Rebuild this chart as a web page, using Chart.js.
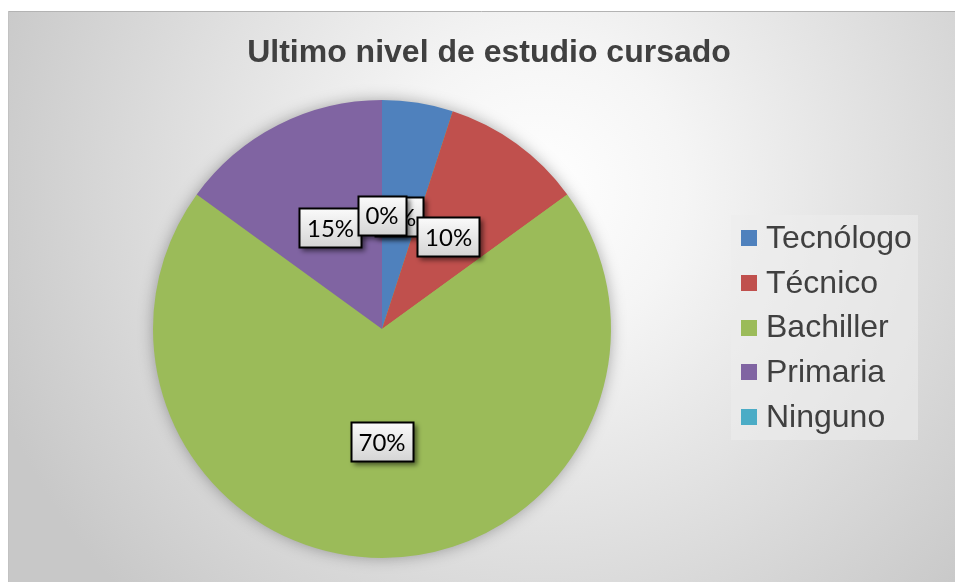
<!DOCTYPE html>
<html>
<head>
<meta charset="utf-8">
<script src="https://cdn.jsdelivr.net/npm/chart.js@4/dist/chart.umd.min.js"></script>
<style>
  html, body { margin: 0; padding: 0; background: #ffffff; }
  #wrap { position: relative; width: 955px; height: 582px; }
</style>
</head>
<body>
<div id="wrap"><canvas id="c"></canvas></div>
<script>
const titleText = 'Ultimo nivel de estudio cursado';
const categories = ['Tecnólogo', 'Técnico', 'Bachiller', 'Primaria', 'Ninguno'];
const percentages = [5, 10, 70, 15, 0];
const sliceColors = ['#4f81bd', '#c0504d', '#9bbb59', '#8064a2', '#4bacc6'];

const backgroundPlugin = {
  id: 'bgFrame',
  beforeDraw(chart) {
    const ctx = chart.ctx;
    const W = chart.width, H = chart.height;
    ctx.save();
    ctx.fillStyle = '#ffffff';
    ctx.fillRect(0, 0, W, H);
    const g = ctx.createRadialGradient(540, 190, 0, 540, 190, 580);
    g.addColorStop(0, '#ffffff');
    g.addColorStop(0.25, '#f5f5f5');
    g.addColorStop(1, '#c8c8c8');
    ctx.fillStyle = g;
    ctx.fillRect(8, 11, W - 8, H - 11);
    ctx.strokeStyle = '#b3b3b3';
    ctx.lineWidth = 1;
    ctx.beginPath();
    ctx.moveTo(8, 11.5); ctx.lineTo(W, 11.5);
    ctx.stroke();
    ctx.strokeStyle = '#c2c2c2';
    ctx.beginPath();
    ctx.moveTo(8.5, 11); ctx.lineTo(8.5, H);
    ctx.stroke();
    // title
    ctx.fillStyle = '#404040';
    ctx.font = 'bold 32px "Liberation Sans", Arial, sans-serif';
    ctx.textAlign = 'center';
    ctx.textBaseline = 'alphabetic';
    ctx.fillText(titleText, 489, 62);
    ctx.restore();
  },
  beforeDatasetsDraw(chart) {
    const meta = chart.getDatasetMeta(0);
    const a = meta.data[0];
    if (!a) return;
    const ctx = chart.ctx;
    ctx.save();
    ctx.shadowColor = 'rgba(0,0,0,0.35)';
    ctx.shadowBlur = 16;
    ctx.fillStyle = '#9bbb59';
    ctx.beginPath();
    ctx.arc(a.x, a.y, a.outerRadius - 1, 0, Math.PI * 2);
    ctx.fill();
    ctx.restore();
  }
};

const labelPlugin = {
  id: 'pctLabels',
  afterDatasetsDraw(chart) {
    const ctx = chart.ctx;
    const meta = chart.getDatasetMeta(0);
    const data = chart.data.datasets[0].data;
    const total = data.reduce((s, v) => s + v, 0);
    ctx.save();
    ctx.font = '24px Lato, "Open Sans", sans-serif';
    meta.data.forEach((arc, i) => {
      const p = arc.getProps(['x', 'y', 'startAngle', 'endAngle', 'outerRadius'], true);
      const mid = (p.startAngle + p.endAngle) / 2;
      const r = p.outerRadius * 0.495;
      const cx = p.x + Math.cos(mid) * r;
      const cy = p.y + Math.sin(mid) * r;
      const txt = Math.round(data[i] / total * 100) + '%';
      const tw = ctx.measureText(txt).width;
      const bw = Math.round(tw + 16), bh = 40;
      const bx = Math.round(cx - bw / 2), by = Math.round(cy - bh / 2);
      ctx.save();
      ctx.shadowColor = 'rgba(0,0,0,0.55)';
      ctx.shadowBlur = 5;
      ctx.shadowOffsetX = 3;
      ctx.shadowOffsetY = 3;
      const g = ctx.createLinearGradient(0, by, 0, by + bh);
      g.addColorStop(0, '#fbfbfb');
      g.addColorStop(1, '#d4d4d4');
      ctx.fillStyle = g;
      ctx.fillRect(bx, by, bw, bh);
      ctx.restore();
      ctx.strokeStyle = '#000000';
      ctx.lineWidth = 2;
      ctx.strokeRect(bx + 0.5, by + 0.5, bw - 1, bh - 1);
      ctx.fillStyle = '#000000';
      ctx.textAlign = 'center';
      ctx.textBaseline = 'middle';
      ctx.fillText(txt, cx, cy + 1);
    });
    ctx.restore();
  }
};

const legendPlugin = {
  id: 'sideLegend',
  afterDraw(chart) {
    const ctx = chart.ctx;
    const labels = chart.data.labels;
    const colors = chart.data.datasets[0].backgroundColor;
    ctx.save();
    ctx.fillStyle = 'rgba(236,236,236,0.6)';
    ctx.fillRect(731, 215, 187, 225);
    ctx.font = '32px "Liberation Sans", Arial, sans-serif';
    ctx.textAlign = 'left';
    ctx.textBaseline = 'middle';
    labels.forEach((lab, i) => {
      const yc = 238 + i * 44.8;
      ctx.fillStyle = colors[i];
      ctx.fillRect(741, Math.round(yc - 8), 16, 16);
      ctx.fillStyle = '#404040';
      ctx.fillText(lab, 766, yc + 1);
    });
    ctx.restore();
  }
};

new Chart(document.getElementById('c'), {
  type: 'pie',
  data: {
    labels: categories,
    datasets: [{
      data: percentages,
      backgroundColor: sliceColors,
      borderWidth: 0
    }]
  },
  options: {
    responsive: true,
    maintainAspectRatio: false,
    animation: false,
    layout: { padding: { left: 153, top: 100, right: 344, bottom: 24 } },
    plugins: {
      legend: { display: false },
      title: { display: false },
      tooltip: { enabled: false }
    }
  },
  plugins: [backgroundPlugin, labelPlugin, legendPlugin]
});
</script>
</body>
</html>
